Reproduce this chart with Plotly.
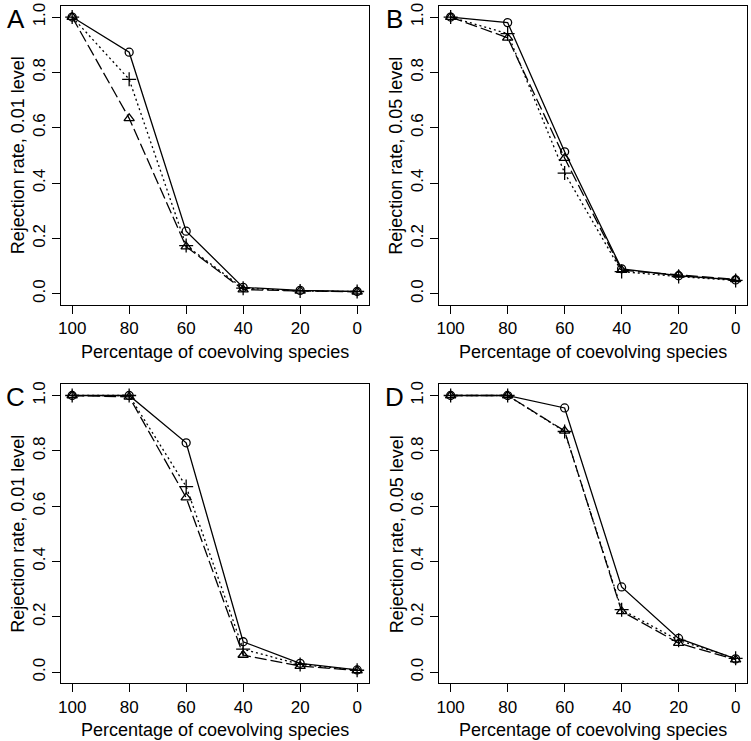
import plotly.graph_objects as go

x_pct = [100, 80, 60, 40, 20, 0]
x_ticks = [100, 80, 60, 40, 20, 0]
y_ticks = [0.0, 0.2, 0.4, 0.6, 0.8, 1.0]
y_tick_labels = ["0.0", "0.2", "0.4", "0.6", "0.8", "1.0"]

# Panel A (0.01 level)
a_circle = [1.0, 0.873, 0.226, 0.023, 0.012, 0.008]
a_plus = [1.0, 0.775, 0.174, 0.020, 0.010, 0.008]
a_tri = [1.0, 0.634, 0.170, 0.015, 0.010, 0.007]
# Panel B (0.05 level)
b_circle = [1.0, 0.980, 0.513, 0.090, 0.065, 0.050]
b_plus = [1.0, 0.940, 0.436, 0.080, 0.062, 0.048]
b_tri = [1.0, 0.925, 0.490, 0.085, 0.068, 0.052]
# Panel C (0.01 level)
c_circle = [1.0, 1.0, 0.829, 0.110, 0.032, 0.008]
c_plus = [1.0, 1.0, 0.671, 0.083, 0.028, 0.007]
c_tri = [1.0, 0.995, 0.631, 0.062, 0.022, 0.006]
# Panel D (0.05 level)
d_circle = [1.0, 1.0, 0.955, 0.308, 0.122, 0.048]
d_plus = [1.0, 1.0, 0.870, 0.226, 0.115, 0.050]
d_tri = [1.0, 1.0, 0.872, 0.220, 0.105, 0.045]

panels = [
    ("A", "Rejection rate, 0.01 level", a_circle, a_plus, a_tri),
    ("B", "Rejection rate, 0.05 level", b_circle, b_plus, b_tri),
    ("C", "Rejection rate, 0.01 level", c_circle, c_plus, c_tri),
    ("D", "Rejection rate, 0.05 level", d_circle, d_plus, d_tri),
]

W, H = 751, 741
FONT = "Liberation Sans, Arial, sans-serif"

# pixel boxes (left, right, top, bottom)
boxes = [(58, 367, 3, 303), (438, 747, 3, 303), (58, 367, 383, 683), (438, 747, 383, 683)]

fig = go.Figure()
layout = dict(
    width=W, height=H, margin=dict(l=0, r=0, t=0, b=0),
    paper_bgcolor="white", plot_bgcolor="white", showlegend=False,
    font=dict(family=FONT, color="black"),
)
annotations = []

for i, (letter, ytitle, yc, yp, yt) in enumerate(panels):
    n = "" if i == 0 else str(i + 1)
    xa, ya = "x" + n, "y" + n
    l, r, t, b = boxes[i]
    styles = [
        (yc, "solid", "circle-open", 8),
        (yp, "2px,3px", "cross-thin-open", 10),
        (yt, "12px,4px", "triangle-up-open", 9),
    ]
    for yv, dash, sym, sz in styles:
        fig.add_trace(go.Scatter(
            x=x_pct, y=yv, xaxis=xa, yaxis=ya, mode="lines+markers",
            line=dict(color="black", width=1.3, dash=dash),
            marker=dict(symbol=sym, size=sz, color="black", line=dict(width=1.3, color="black")),
        ))
    axis_common = dict(showline=True, mirror=True, linecolor="black", linewidth=1.3,
                       ticks="outside", ticklen=8, tickwidth=1.3, tickcolor="black",
                       showgrid=False, zeroline=False,
                       tickfont=dict(family=FONT, size=17, color="black"))
    layout["xaxis" + n] = dict(axis_common, domain=[l / W, r / W], range=[104, -4],
                               tickvals=x_ticks, ticktext=[str(v) for v in x_ticks],
                               anchor=ya)
    layout["yaxis" + n] = dict(axis_common, domain=[1 - b / H, 1 - t / H], range=[-0.04, 1.04],
                               tickvals=y_ticks, ticktext=y_tick_labels, tickangle=-90,
                               anchor=xa)
    # x-axis title
    annotations.append(dict(text="Percentage of coevolving species", xref="paper", yref="paper",
                            x=(l + r) / 2 / W, y=1 - (b + 47) / H, xanchor="center", yanchor="middle",
                            showarrow=False, font=dict(family=FONT, size=18, color="black")))
    # y-axis title
    annotations.append(dict(text=ytitle, xref="paper", yref="paper", textangle=-90,
                            x=(l - 43) / W, y=1 - (t + b) / 2 / H, xanchor="center", yanchor="middle",
                            showarrow=False, font=dict(family=FONT, size=18, color="black")))
    # panel letter
    annotations.append(dict(text=letter, xref="paper", yref="paper",
                            x=(l - 45) / W, y=1 - (t + 13) / H, xanchor="center", yanchor="middle",
                            showarrow=False, font=dict(family=FONT, size=26, color="black")))

layout["annotations"] = annotations
fig.update_layout(**layout)
fig.write_html("out.html", config={"displayModeBar": False},
               post_script="document.body.style.margin='0';document.body.style.overflow='hidden';")
